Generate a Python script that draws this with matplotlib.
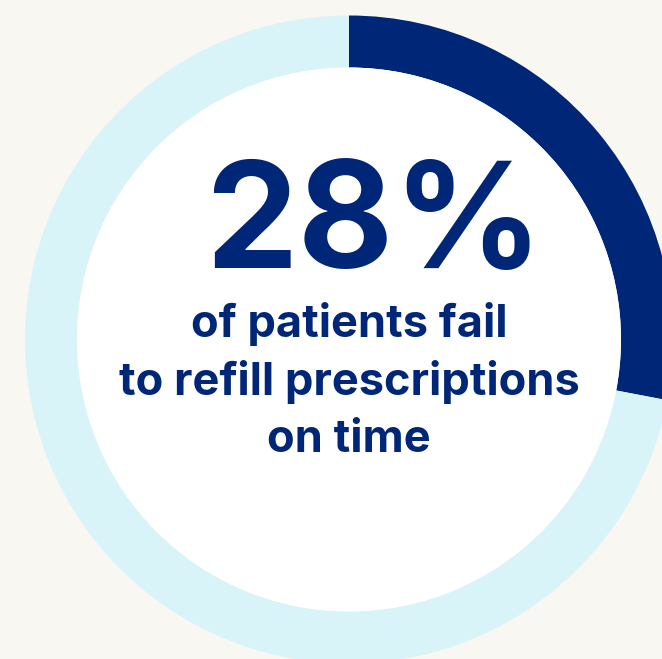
import matplotlib
matplotlib.use("Agg")
import matplotlib.pyplot as plt
from matplotlib.patches import Circle

# Data
share_labels = ["Fail to refill on time", "Others"]
share_values = [28, 72]
headline = "28%"
subtitle_lines = ["of patients fail", "to refill prescriptions", "on time"]

BG = "#F8F7F2"
DARK = "#002677"
LIGHT = "#D9F4F8"

W, H = 662, 659
fig = plt.figure(figsize=(W / 100, H / 100), dpi=100, facecolor=BG)
ax = fig.add_axes([0, 0, 1, 1])
ax.set_facecolor(BG)

cx, cy = 349, H - 339.5
R_out, R_in = 324, 272

ax.pie(share_values, colors=[DARK, LIGHT], startangle=90, counterclock=False,
       radius=R_out, center=(cx, cy),
       wedgeprops=dict(width=R_out - R_in, edgecolor="none", linewidth=0))
ax.add_patch(Circle((cx, cy), R_in, facecolor="white", edgecolor="none", zorder=3))

ax.set_xlim(0, W)
ax.set_ylim(0, H)
ax.set_aspect("equal")
ax.axis("off")

font = ["Inter", "DejaVu Sans"]
ax.text(374, H - 268, headline, ha="center", va="baseline", fontsize=106,
        fontweight="bold", color=DARK, family=font, zorder=5)
baselines = [337.5, 394.5, 451.5]
for line, b in zip(subtitle_lines, baselines):
    ax.text(cx, H - b, line, ha="center", va="baseline", fontsize=32.5,
            fontweight="bold", color=DARK, family=font, zorder=5)

fig.savefig("out.png", dpi=100, facecolor=BG)
